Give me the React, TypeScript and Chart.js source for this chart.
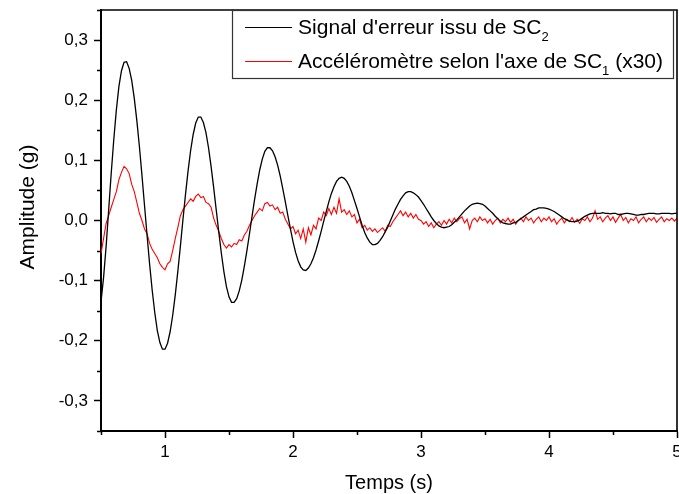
import React, { useEffect, useRef } from "react";
import { Chart, registerables } from "chart.js";

Chart.register(...registerables);

const FONT = '"Liberation Sans", Arial, sans-serif';

// Sampling grid of the recordings (seconds)
const T_START = 0.5;
const T_STEP = 0.02;

// Signal d'erreur issu de SC2 (g), one value every 0.02 s from 0.50 s to 5.00 s
const SIGNAL_SC2 = [
  -0.135, -0.095, -0.043, 0.018, 0.079, 0.135, 0.184, 0.223, 0.249, 0.263,
  0.264, 0.253, 0.233, 0.203, 0.166, 0.123, 0.075, 0.025, -0.025, -0.073,
  -0.116, -0.153, -0.183, -0.203, -0.214, -0.214, -0.204, -0.185, -0.158, -0.124,
  -0.085, -0.043, 0.001, 0.043, 0.082, 0.116, 0.143, 0.162, 0.172, 0.172,
  0.163, 0.146, 0.121, 0.09, 0.055, 0.018, -0.019, -0.054, -0.085, -0.11,
  -0.127, -0.136, -0.136, -0.13, -0.117, -0.099, -0.076, -0.05, -0.022, 0.007,
  0.035, 0.061, 0.084, 0.102, 0.115, 0.121, 0.121, 0.116, 0.106, 0.092,
  0.074, 0.053, 0.031, 0.008, -0.014, -0.035, -0.053, -0.067, -0.077, -0.082,
  -0.083, -0.079, -0.072, -0.062, -0.049, -0.034, -0.018, -0.001, 0.015, 0.031,
  0.045, 0.056, 0.065, 0.07, 0.072, 0.07, 0.065, 0.057, 0.046, 0.033,
  0.02, 0.006, -0.008, -0.02, -0.029, -0.036, -0.04, -0.04, -0.038, -0.033,
  -0.027, -0.019, -0.011, -0.001, 0.009, 0.019, 0.027, 0.035, 0.041, 0.046,
  0.048, 0.048, 0.046, 0.043, 0.039, 0.033, 0.027, 0.02, 0.013, 0.006,
  0.0, -0.005, -0.009, -0.011, -0.012, -0.011, -0.01, -0.007, -0.003, 0.001,
  0.006, 0.011, 0.016, 0.02, 0.024, 0.027, 0.028, 0.029, 0.028, 0.027,
  0.024, 0.02, 0.016, 0.012, 0.007, 0.003, -0.001, -0.004, -0.005, -0.006,
  -0.006, -0.004, -0.003, 0.0, 0.003, 0.006, 0.009, 0.012, 0.015, 0.018,
  0.019, 0.021, 0.021, 0.021, 0.02, 0.019, 0.017, 0.015, 0.012, 0.009,
  0.006, 0.003, 0.001, -0.001, -0.002, -0.002, -0.001, 0.001, 0.004, 0.007,
  0.009, 0.011, 0.012, 0.012, 0.012, 0.012, 0.013, 0.012, 0.012, 0.011,
  0.012, 0.012, 0.01, 0.01, 0.011, 0.012, 0.012, 0.011, 0.01, 0.009,
  0.009, 0.01, 0.01, 0.011, 0.012, 0.012, 0.012, 0.011, 0.011, 0.012,
  0.012, 0.012, 0.012, 0.011, 0.012, 0.012,
];

// Accéléromètre selon l'axe de SC1 (x30) (g), same sampling grid
const ACCEL_SC1 = [
  -0.055, -0.03, -0.005, 0.008, 0.022, 0.035, 0.048, 0.068, 0.08, 0.09,
  0.086, 0.078, 0.06, 0.048, 0.03, 0.012, 0.0, -0.014, -0.022, -0.038,
  -0.048, -0.055, -0.062, -0.072, -0.078, -0.082, -0.072, -0.068, -0.05, -0.03,
  -0.012, 0.008, 0.018, 0.024, 0.03, 0.036, 0.032, 0.04, 0.044, 0.038,
  0.04, 0.03, 0.028, 0.022, 0.004, -0.008, -0.018, -0.03, -0.04, -0.046,
  -0.04, -0.044, -0.038, -0.04, -0.032, -0.034, -0.024, -0.018, -0.008, 0.0,
  0.008, 0.014, 0.02, 0.016, 0.028, 0.03, 0.024, 0.026, 0.018, 0.022,
  0.012, 0.014, 0.002, -0.006, -0.014, -0.01, -0.022, -0.016, -0.03, -0.014,
  -0.036, -0.012, -0.024, -0.008, -0.014, 0.004, 0.0, 0.014, 0.008, 0.02,
  0.01, 0.022, 0.012, 0.036, 0.014, 0.018, 0.01, 0.016, 0.006, 0.01,
  -0.004, 0.002, -0.012, -0.008, -0.016, -0.012, -0.018, -0.014, -0.02, -0.016,
  -0.012, -0.018, -0.008, -0.01, -0.002, 0.004, 0.01, 0.016, 0.008, 0.014,
  0.006, 0.012, 0.004, 0.01, 0.002, 0.0, -0.006, -0.002, -0.01, -0.004,
  -0.012, -0.006, -0.002, -0.008, 0.0, -0.006, 0.002, -0.004, 0.004, -0.002,
  0.003, 0.006, -0.004, 0.002, -0.014, 0.0, 0.004, -0.002, 0.006, 0.0,
  0.003, -0.004, 0.002, -0.006, 0.0, 0.004, -0.004, 0.002, -0.002, 0.004,
  -0.003, 0.002, -0.006, 0.0, 0.004, -0.002, 0.006, 0.0, 0.004, -0.004,
  0.002, 0.006, -0.002, 0.004, 0.0, 0.006, -0.002, 0.003, -0.006, 0.0,
  0.004, -0.004, 0.002, -0.002, 0.005, -0.003, 0.002, -0.005, 0.003, 0.0,
  0.006, -0.002, 0.004, 0.016, 0.002, 0.006, -0.002, 0.004, 0.008, 0.0,
  0.006, -0.003, 0.004, 0.01, 0.0, 0.005, -0.004, 0.003, 0.0, 0.006,
  -0.004, 0.002, 0.006, -0.002, 0.004, 0.0, 0.005, -0.003, 0.002, 0.006,
  -0.002, 0.003, 0.0, 0.004, -0.001, 0.004,
];

const SERIES_LABELS = [
  "Signal d'erreur issu de SC₂",
  "Accéléromètre selon l'axe de SC₁ (x30)",
];
const SERIES_COLORS = ["#000000", "#ff0000"];

const X_MAJOR = [1, 2, 3, 4, 5];
const X_MINOR = [0.5, 1.5, 2.5, 3.5, 4.5];
const Y_MAJOR = [-0.3, -0.2, -0.1, 0, 0.1, 0.2, 0.3];
const Y_MINOR = [-0.35, -0.25, -0.15, -0.05, 0.05, 0.15, 0.25, 0.35];

const X_TITLE = "Temps (s)";
const Y_TITLE = "Amplitude (g)";

function toPoints(values: number[]) {
  return values.map((v, i) => ({ x: +(T_START + i * T_STEP).toFixed(2), y: v }));
}

function fmtY(v: number) {
  return Number(v).toFixed(1).replace(".", ",");
}

const SUB_MAP: Record<string, string> = {
  "₀": "0", "₁": "1", "₂": "2", "₃": "3", "₄": "4",
  "₅": "5", "₆": "6", "₇": "7", "₈": "8", "₉": "9",
};

function splitRuns(label: string) {
  const runs: { text: string; sub: boolean }[] = [];
  for (const ch of label) {
    const sub = ch in SUB_MAP;
    const c = sub ? SUB_MAP[ch] : ch;
    const last = runs[runs.length - 1];
    if (last && last.sub === sub) last.text += c;
    else runs.push({ text: c, sub });
  }
  return runs;
}

const MAIN_FONT = `21px ${FONT}`;
const SUB_FONT = `13px ${FONT}`;
const Y_TITLE_FONT = `21px ${FONT}`;

const decorPlugin = {
  id: "decor",
  afterDraw(chart: any) {
    const { ctx, chartArea: a, scales } = chart;
    const x = scales.x;
    const y = scales.y;
    ctx.save();
    // top and right frame
    ctx.strokeStyle = "#000";
    ctx.lineWidth = 1.6;
    ctx.beginPath();
    ctx.moveTo(a.left, a.top);
    ctx.lineTo(a.right, a.top);
    ctx.lineTo(a.right, a.bottom);
    ctx.stroke();
    // minor ticks
    ctx.lineWidth = 1.5;
    ctx.beginPath();
    for (const v of Y_MINOR) {
      const py = Math.round(y.getPixelForValue(v)) + 0.5;
      ctx.moveTo(a.left - 4, py);
      ctx.lineTo(a.left, py);
    }
    for (const v of X_MINOR) {
      const px = Math.round(x.getPixelForValue(v)) + 0.5;
      ctx.moveTo(px, a.bottom);
      ctx.lineTo(px, a.bottom + 4);
    }
    ctx.stroke();

    // y-axis title
    ctx.save();
    ctx.translate(28, 207);
    ctx.rotate(-Math.PI / 2);
    ctx.font = Y_TITLE_FONT;
    ctx.fillStyle = "#000";
    ctx.textAlign = "center";
    ctx.textBaseline = "middle";
    ctx.fillText(Y_TITLE, 0, 0);
    ctx.restore();

    // legend
    const runsList = SERIES_LABELS.map(splitRuns);
    const widths = runsList.map((runs) => {
      let w = 0;
      for (const r of runs) {
        ctx.font = r.sub ? SUB_FONT : MAIN_FONT;
        w += ctx.measureText(r.text).width;
      }
      return w;
    });
    const padL = 13, lineLen = 47, gap = 6, padR = 10;
    const boxRight = a.right - 4;
    const boxW = padL + lineLen + gap + Math.max(...widths) + padR;
    const boxLeft = boxRight - boxW;
    const boxTop = a.top;
    const boxH = 68;
    ctx.fillStyle = "#fff";
    ctx.fillRect(boxLeft, boxTop, boxW, boxH);
    ctx.strokeStyle = "#333";
    ctx.lineWidth = 1.2;
    ctx.strokeRect(Math.round(boxLeft) + 0.5, boxTop + 0.5, Math.round(boxW), boxH);
    const rowY = [boxTop + 17, boxTop + 51];
    runsList.forEach((runs, i) => {
      const ry = rowY[i];
      ctx.strokeStyle = SERIES_COLORS[i];
      ctx.lineWidth = 1;
      ctx.beginPath();
      ctx.moveTo(boxLeft + padL, ry + 0.5);
      ctx.lineTo(boxLeft + padL + lineLen, ry + 0.5);
      ctx.stroke();
      let tx = boxLeft + padL + lineLen + gap;
      ctx.fillStyle = "#000";
      ctx.textBaseline = "middle";
      ctx.textAlign = "left";
      for (const r of runs) {
        ctx.font = r.sub ? SUB_FONT : MAIN_FONT;
        ctx.fillText(r.text, tx, r.sub ? ry + 10 : ry + 1);
        tx += ctx.measureText(r.text).width;
      }
    });
    ctx.restore();
  },
};

export default function App() {
  const canvasRef = useRef<HTMLCanvasElement | null>(null);

  useEffect(() => {
    if (!canvasRef.current) return;
    Chart.defaults.font.family = FONT;
    const chart = new Chart(canvasRef.current, {
      type: "line",
      data: {
        datasets: [
          {
            label: SERIES_LABELS[0],
            data: toPoints(SIGNAL_SC2),
            borderColor: SERIES_COLORS[0],
            borderWidth: 1.3,
            pointRadius: 0,
            tension: 0,
          },
          {
            label: SERIES_LABELS[1],
            data: toPoints(ACCEL_SC1),
            borderColor: SERIES_COLORS[1],
            borderWidth: 1.1,
            pointRadius: 0,
            tension: 0,
          },
        ],
      },
      options: {
        animation: false,
        responsive: true,
        maintainAspectRatio: false,
        layout: { padding: { top: 10, right: 2, left: 0, bottom: 0 } },
        plugins: {
          legend: { display: false },
          tooltip: { enabled: false },
        },
        scales: {
          x: {
            type: "linear",
            min: 0.5,
            max: 5,
            afterBuildTicks: (s: any) => {
              s.ticks = X_MAJOR.map((v) => ({ value: v }));
            },
            afterFit: (s: any) => {
              s.height = 63;
              s.paddingLeft = 0;
              s.paddingRight = 0;
            },
            ticks: {
              callback: (v: any) => String(v),
              maxRotation: 0,
              autoSkip: false,
              color: "#000",
              font: { size: 17 },
              padding: 4,
            },
            grid: {
              drawOnChartArea: false,
              drawTicks: true,
              tickLength: 7,
              tickColor: "#000",
              tickWidth: 1.5,
            },
            border: { display: true, color: "#000", width: 2 },
            title: {
              display: true,
              text: X_TITLE,
              color: "#000",
              font: { size: 20, lineHeight: 1 },
              padding: { top: 0, bottom: 1 },
            },
          },
          y: {
            type: "linear",
            min: -0.35,
            max: 0.35,
            afterBuildTicks: (s: any) => {
              s.ticks = Y_MAJOR.map((v) => ({ value: v }));
            },
            afterFit: (s: any) => {
              s.width = 101;
              s.paddingTop = 0;
              s.paddingBottom = 0;
            },
            ticks: {
              callback: (v: any) => fmtY(v),
              color: "#000",
              font: { size: 17 },
              padding: 6,
            },
            grid: {
              drawOnChartArea: false,
              drawTicks: true,
              tickLength: 7,
              tickColor: "#000",
              tickWidth: 1.5,
            },
            border: { display: true, color: "#000", width: 2 },
            title: { display: false, text: Y_TITLE },
          },
        },
      },
      plugins: [decorPlugin],
    });
    return () => chart.destroy();
  }, []);

  return (
    <div
      style={{
        position: "absolute",
        left: 0,
        top: 0,
        width: 679,
        height: 494,
        overflow: "hidden",
        background: "#fff",
      }}
    >
      <canvas ref={canvasRef} />
    </div>
  );
}
